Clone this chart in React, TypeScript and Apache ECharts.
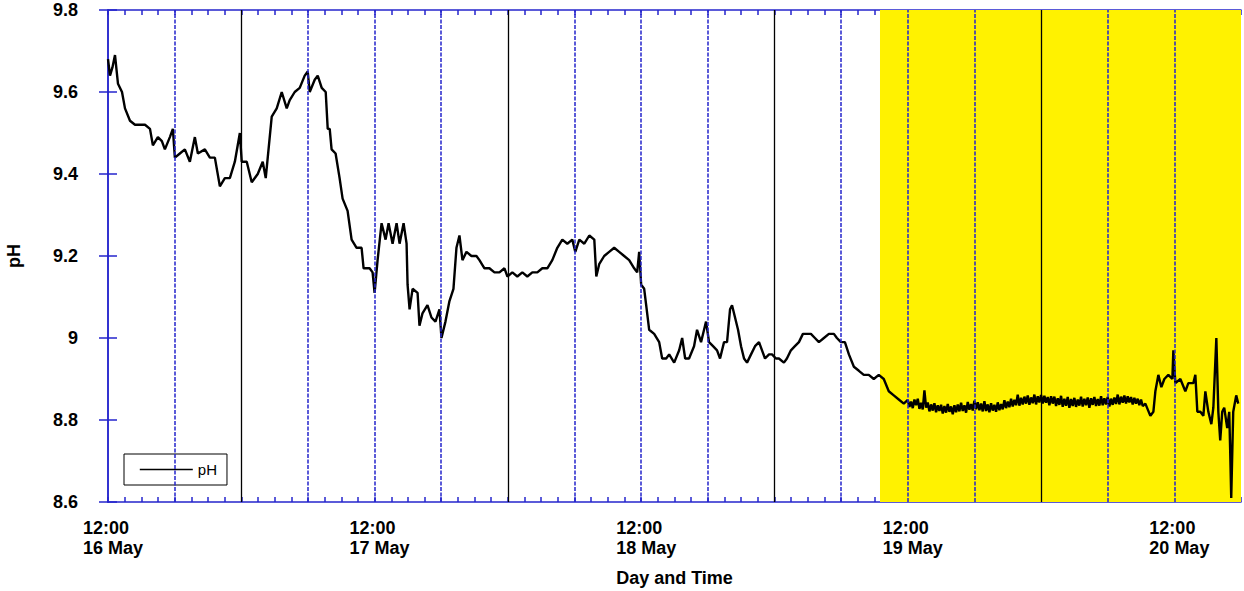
import React, { useEffect, useRef } from "react";
import * as echarts from "echarts";

// hours after 12:00 on 16 May, pH
const phReadings: [number, number][] = [
  [0, 9.68], [0.18, 9.64], [0.4, 9.66], [0.63, 9.69], [0.9, 9.62], [1.26, 9.6], [1.53, 9.56], [1.98, 9.53],
  [2.43, 9.52], [2.88, 9.52], [3.33, 9.52], [3.78, 9.51], [4.04, 9.47], [4.49, 9.49], [4.85, 9.48], [5.12, 9.46],
  [5.57, 9.49], [5.84, 9.51], [6.02, 9.44], [6.47, 9.45], [6.92, 9.46], [7.37, 9.43], [7.82, 9.49], [8.09, 9.45],
  [8.72, 9.46], [9.17, 9.44], [9.62, 9.44], [10.07, 9.37], [10.52, 9.39], [10.97, 9.39], [11.42, 9.43], [11.87, 9.5],
  [12.04, 9.43], [12.49, 9.43], [12.94, 9.38], [13.48, 9.4], [13.93, 9.43], [14.2, 9.39], [14.38, 9.44], [14.74, 9.54],
  [15.19, 9.56], [15.64, 9.6], [16.09, 9.56], [16.36, 9.58], [16.81, 9.6], [17.26, 9.61], [17.71, 9.64], [17.98, 9.65],
  [18.16, 9.6], [18.61, 9.63], [18.88, 9.64], [19.24, 9.61], [19.6, 9.6], [19.78, 9.51], [19.96, 9.51], [20.13, 9.46],
  [20.49, 9.45], [20.85, 9.39], [21.12, 9.34], [21.57, 9.31], [21.93, 9.24], [22.38, 9.22], [22.83, 9.22], [23.01, 9.17],
  [23.55, 9.17], [23.82, 9.16], [24.0, 9.11], [24.27, 9.19], [24.63, 9.28], [24.99, 9.24], [25.26, 9.28], [25.62, 9.23],
  [25.98, 9.28], [26.25, 9.23], [26.61, 9.28], [26.88, 9.23], [26.97, 9.13], [27.15, 9.07], [27.42, 9.12], [27.87, 9.11],
  [28.04, 9.03], [28.31, 9.06], [28.76, 9.08], [29.12, 9.05], [29.48, 9.04], [29.84, 9.07], [30.02, 9.0], [30.38, 9.04],
  [30.74, 9.09], [31.1, 9.12], [31.37, 9.22], [31.64, 9.25], [31.91, 9.19], [32.27, 9.21], [32.72, 9.2], [33.17, 9.2],
  [33.44, 9.19], [33.89, 9.17], [34.34, 9.17], [34.79, 9.16], [35.24, 9.16], [35.69, 9.17], [35.96, 9.15], [36.4, 9.16],
  [36.85, 9.15], [37.3, 9.16], [37.75, 9.15], [38.2, 9.16], [38.65, 9.16], [39.1, 9.17], [39.55, 9.17], [40.0, 9.19],
  [40.45, 9.22], [40.9, 9.24], [41.35, 9.23], [41.8, 9.24], [42.07, 9.21], [42.43, 9.24], [42.88, 9.23], [43.33, 9.25],
  [43.78, 9.24], [43.96, 9.15], [44.22, 9.18], [44.67, 9.2], [45.12, 9.21], [45.57, 9.22], [46.02, 9.21], [46.47, 9.2],
  [46.92, 9.19], [47.37, 9.17], [47.64, 9.16], [47.82, 9.21], [48.0, 9.13], [48.27, 9.12], [48.45, 9.08], [48.72, 9.02],
  [49.17, 9.01], [49.62, 8.99], [49.89, 8.95], [50.25, 8.95], [50.52, 8.96], [50.97, 8.94], [51.42, 8.97], [51.69, 9.0],
  [51.96, 8.95], [52.31, 8.95], [52.76, 8.98], [53.03, 9.02], [53.39, 8.99], [53.66, 9.02], [53.84, 9.04], [54.11, 8.99],
  [54.47, 8.98], [54.83, 8.97], [55.1, 8.95], [55.46, 8.99], [55.73, 8.99], [56.0, 9.07], [56.18, 9.08], [56.45, 9.05],
  [56.72, 9.02], [56.99, 8.98], [57.26, 8.95], [57.53, 8.94], [57.89, 8.96], [58.25, 8.98], [58.61, 8.99], [58.88, 8.97],
  [59.15, 8.95], [59.51, 8.96], [59.78, 8.96], [60.13, 8.95], [60.4, 8.95], [60.85, 8.94], [61.12, 8.95], [61.48, 8.97],
  [61.84, 8.98], [62.2, 8.99], [62.56, 9.01], [62.92, 9.01], [63.28, 9.01], [63.64, 9.0], [64.0, 8.99], [64.45, 9.0],
  [64.9, 9.01], [65.35, 9.01], [65.62, 9.0], [65.98, 8.99], [66.34, 8.99], [66.7, 8.96], [67.15, 8.93], [67.6, 8.92],
  [68.04, 8.91], [68.49, 8.91], [68.94, 8.9], [69.39, 8.91], [69.84, 8.9], [70.29, 8.87], [70.74, 8.86], [71.19, 8.85],
  [71.64, 8.84],
  [72.0, 8.849], [72.15, 8.832], [72.3, 8.845], [72.45, 8.829], [72.6, 8.85], [72.75, 8.836], [72.9, 8.852], [73.05, 8.827],
  [73.2, 8.842], [73.35, 8.826], [73.5, 8.872], [73.65, 8.83], [73.8, 8.843], [73.95, 8.821], [74.1, 8.838], [74.25, 8.823],
  [74.4, 8.841], [74.55, 8.819], [74.7, 8.836], [74.85, 8.822], [75.0, 8.837], [75.15, 8.816], [75.3, 8.834], [75.45, 8.818],
  [75.6, 8.839], [75.75, 8.82], [75.9, 8.833], [76.05, 8.814], [76.2, 8.836], [76.35, 8.819], [76.5, 8.838], [76.65, 8.821],
  [76.8, 8.842], [76.95, 8.822], [77.1, 8.836], [77.25, 8.818], [77.4, 8.844], [77.55, 8.825], [77.7, 8.839], [77.85, 8.823],
  [78.0, 8.847], [78.15, 8.826], [78.3, 8.843], [78.45, 8.824], [78.6, 8.84], [78.75, 8.821], [78.9, 8.846], [79.05, 8.822],
  [79.2, 8.838], [79.35, 8.819], [79.5, 8.841], [79.65, 8.823], [79.8, 8.837], [79.95, 8.82], [80.1, 8.843], [80.25, 8.824],
  [80.4, 8.839], [80.55, 8.826], [80.7, 8.848], [80.85, 8.829], [81.0, 8.845], [81.15, 8.831], [81.3, 8.852], [81.45, 8.833],
  [81.6, 8.849], [81.75, 8.836], [81.9, 8.862], [82.05, 8.835], [82.2, 8.854], [82.35, 8.838], [82.5, 8.857], [82.65, 8.84],
  [82.8, 8.86], [82.95, 8.837], [83.1, 8.855], [83.25, 8.841], [83.4, 8.862], [83.55, 8.838], [83.7, 8.858], [83.85, 8.843],
  [84.0, 8.861], [84.15, 8.84], [84.3, 8.859], [84.45, 8.842], [84.6, 8.856], [84.75, 8.836], [84.9, 8.858], [85.05, 8.84],
  [85.2, 8.857], [85.35, 8.834], [85.5, 8.853], [85.65, 8.837], [85.8, 8.859], [85.95, 8.832], [86.1, 8.852], [86.25, 8.835],
  [86.4, 8.856], [86.55, 8.83], [86.7, 8.851], [86.85, 8.834], [87.0, 8.854], [87.15, 8.832], [87.3, 8.85], [87.45, 8.835],
  [87.6, 8.857], [87.75, 8.833], [87.9, 8.852], [88.05, 8.836], [88.2, 8.855], [88.35, 8.83], [88.5, 8.853], [88.65, 8.837],
  [88.8, 8.856], [88.95, 8.834], [89.1, 8.851], [89.25, 8.835], [89.4, 8.858], [89.55, 8.836], [89.7, 8.853], [89.85, 8.838],
  [90.0, 8.856], [90.15, 8.833], [90.3, 8.852], [90.45, 8.837], [90.6, 8.855], [90.75, 8.839], [90.9, 8.862], [91.05, 8.838],
  [91.2, 8.857], [91.35, 8.842], [91.5, 8.86], [91.65, 8.84], [91.8, 8.858], [91.95, 8.843], [92.1, 8.856], [92.25, 8.838],
  [92.4, 8.854], [92.55, 8.84], [92.7, 8.852], [92.85, 8.836], [93.0, 8.85], [93.15, 8.834],
  [93.39, 8.84], [93.84, 8.81], [94.11, 8.82], [94.29, 8.87], [94.56, 8.91], [94.83, 8.88], [95.1, 8.9], [95.46, 8.91],
  [95.82, 8.9], [95.91, 8.97], [96.09, 8.89], [96.54, 8.9], [96.99, 8.87], [97.26, 8.89], [97.71, 8.89], [97.89, 8.91],
  [98.07, 8.82], [98.34, 8.82], [98.61, 8.81], [98.79, 8.87], [99.06, 8.82], [99.33, 8.79], [99.51, 8.83], [99.78, 9.0],
  [99.96, 8.82], [100.13, 8.75], [100.31, 8.82], [100.49, 8.83], [100.76, 8.78], [100.94, 8.82], [101.03, 8.72], [101.12, 8.61],
  [101.3, 8.82], [101.57, 8.86], [101.75, 8.84],
];

// axis / annotation values (hours after 12:00, 16 May)
const xMin = 0;
const xMax = 102;
const tickStep = 1.5;
const noonHours = [0, 24, 48, 72, 96];
const noonDays = ["16 May", "17 May", "18 May", "19 May", "20 May"];
const sixHourLines = [6, 18, 24, 30, 42, 48, 54, 66, 72, 78, 90, 96];
const midnightLines = [12, 36, 60, 84];
const shadedPeriod: [number, number] = [69.5, 102];
const yMin = 8.6;
const yMax = 9.8;
const yStep = 0.2;

const BLUE = "#2424cc";
const FONT = "'Liberation Sans', Arial, Helvetica, sans-serif";

export default function App() {
  const ref = useRef<HTMLDivElement>(null);
  useEffect(() => {
    if (!ref.current) return;
    const chart = echarts.init(ref.current, undefined, { renderer: "svg" });
    const baseX = {
      type: "value" as const,
      min: xMin,
      max: xMax,
      interval: tickStep,
      splitLine: { show: false },
      axisLine: { show: true, lineStyle: { color: BLUE, width: 1.5 } },
      axisTick: { show: true, inside: true, length: 5, lineStyle: { color: BLUE, width: 1.5 } },
    };
    const baseY = {
      type: "value" as const,
      min: yMin,
      max: yMax,
      interval: yStep,
      splitLine: { show: false },
      axisLine: { show: true, lineStyle: { color: BLUE, width: 1.5 } },
      axisTick: { show: true, inside: true, length: 9, lineStyle: { color: BLUE, width: 1.5 } },
    };
    chart.setOption({
      animation: false,
      backgroundColor: "#ffffff",
      textStyle: { fontFamily: FONT },
      grid: { left: 108, right: 3, top: 10, bottom: 89, show: false, containLabel: false, outerBoundsMode: "none" },
      legend: {
        data: ["pH"],
        left: 124,
        top: 454,
        orient: "vertical",
        itemWidth: 53,
        itemHeight: 14,
        itemGap: 4,
        padding: [8, 10, 8, 15],
        backgroundColor: "#ffffff",
        borderColor: "#000000",
        borderWidth: 1,
        borderRadius: 0,
        itemStyle: { opacity: 0 },
        lineStyle: { width: 1.6, color: "#000" },
        textStyle: { fontFamily: FONT, fontSize: 15, color: "#000" },
      },
      xAxis: [
        {
          ...baseX,
          position: "bottom",
          name: "Day and Time",
          nameLocation: "middle",
          nameGap: 67,
          nameTextStyle: { fontFamily: FONT, fontSize: 18, fontWeight: "bold", color: "#000" },
          axisLabel: {
            interval: 0,
            margin: 16,
            color: "#000",
            fontFamily: FONT,
            formatter: (v: number) => {
              const i = noonHours.findIndex((h) => Math.abs(h - v) < 1e-6);
              return i >= 0 ? `{a|12:00}\n{a|${noonDays[i]}}` : "";
            },
            rich: {
              a: {
                fontFamily: FONT,
                fontSize: 18,
                fontWeight: "bold",
                color: "#000",
                width: 50,
                align: "left",
                lineHeight: 20,
              },
            },
          },
        },
        { ...baseX, position: "top", axisLabel: { show: false } },
      ],
      yAxis: [
        {
          ...baseY,
          position: "left",
          name: "pH",
          nameLocation: "middle",
          nameGap: 85,
          nameRotate: 90,
          nameTextStyle: { fontFamily: FONT, fontSize: 18, fontWeight: "bold", color: "#000" },
          axisLabel: {
            margin: 30,
            color: "#000",
            fontFamily: FONT,
            fontSize: 18,
            fontWeight: "bold",
            formatter: (v: number) => String(Math.round(v * 10) / 10),
          },
        },
        { ...baseY, position: "right", axisLabel: { show: false } },
      ],
      series: [
        {
          name: "shade",
          type: "line",
          data: [],
          z: 1,
          silent: true,
          markArea: {
            silent: true,
            itemStyle: { color: "#fff200", opacity: 1 },
            data: [[{ xAxis: shadedPeriod[0] }, { xAxis: shadedPeriod[1] }]],
          },
        },
        {
          name: "pH",
          type: "line",
          z: 3,
          symbol: "none",
          data: phReadings,
          lineStyle: { color: "#000000", width: 2.4 },
          itemStyle: { color: "#000000" },
          markLine: {
            silent: true,
            symbol: ["none", "none"],
            label: { show: false },
            animation: false,
            data: [
              ...sixHourLines.map((h) => ({
                xAxis: h,
                lineStyle: { color: BLUE, width: 1.5, type: [4, 1.5] },
              })),
              ...midnightLines.map((h) => ({
                xAxis: h,
                lineStyle: { color: "#000000", width: 1.3, type: "solid" },
              })),
            ],
          },
        },
      ],
    });
    return () => chart.dispose();
  }, []);
  return (
    <div
      ref={ref}
      style={{ position: "fixed", left: 0, top: 0, width: 1244, height: 591, background: "#fff" }}
    />
  );
}
